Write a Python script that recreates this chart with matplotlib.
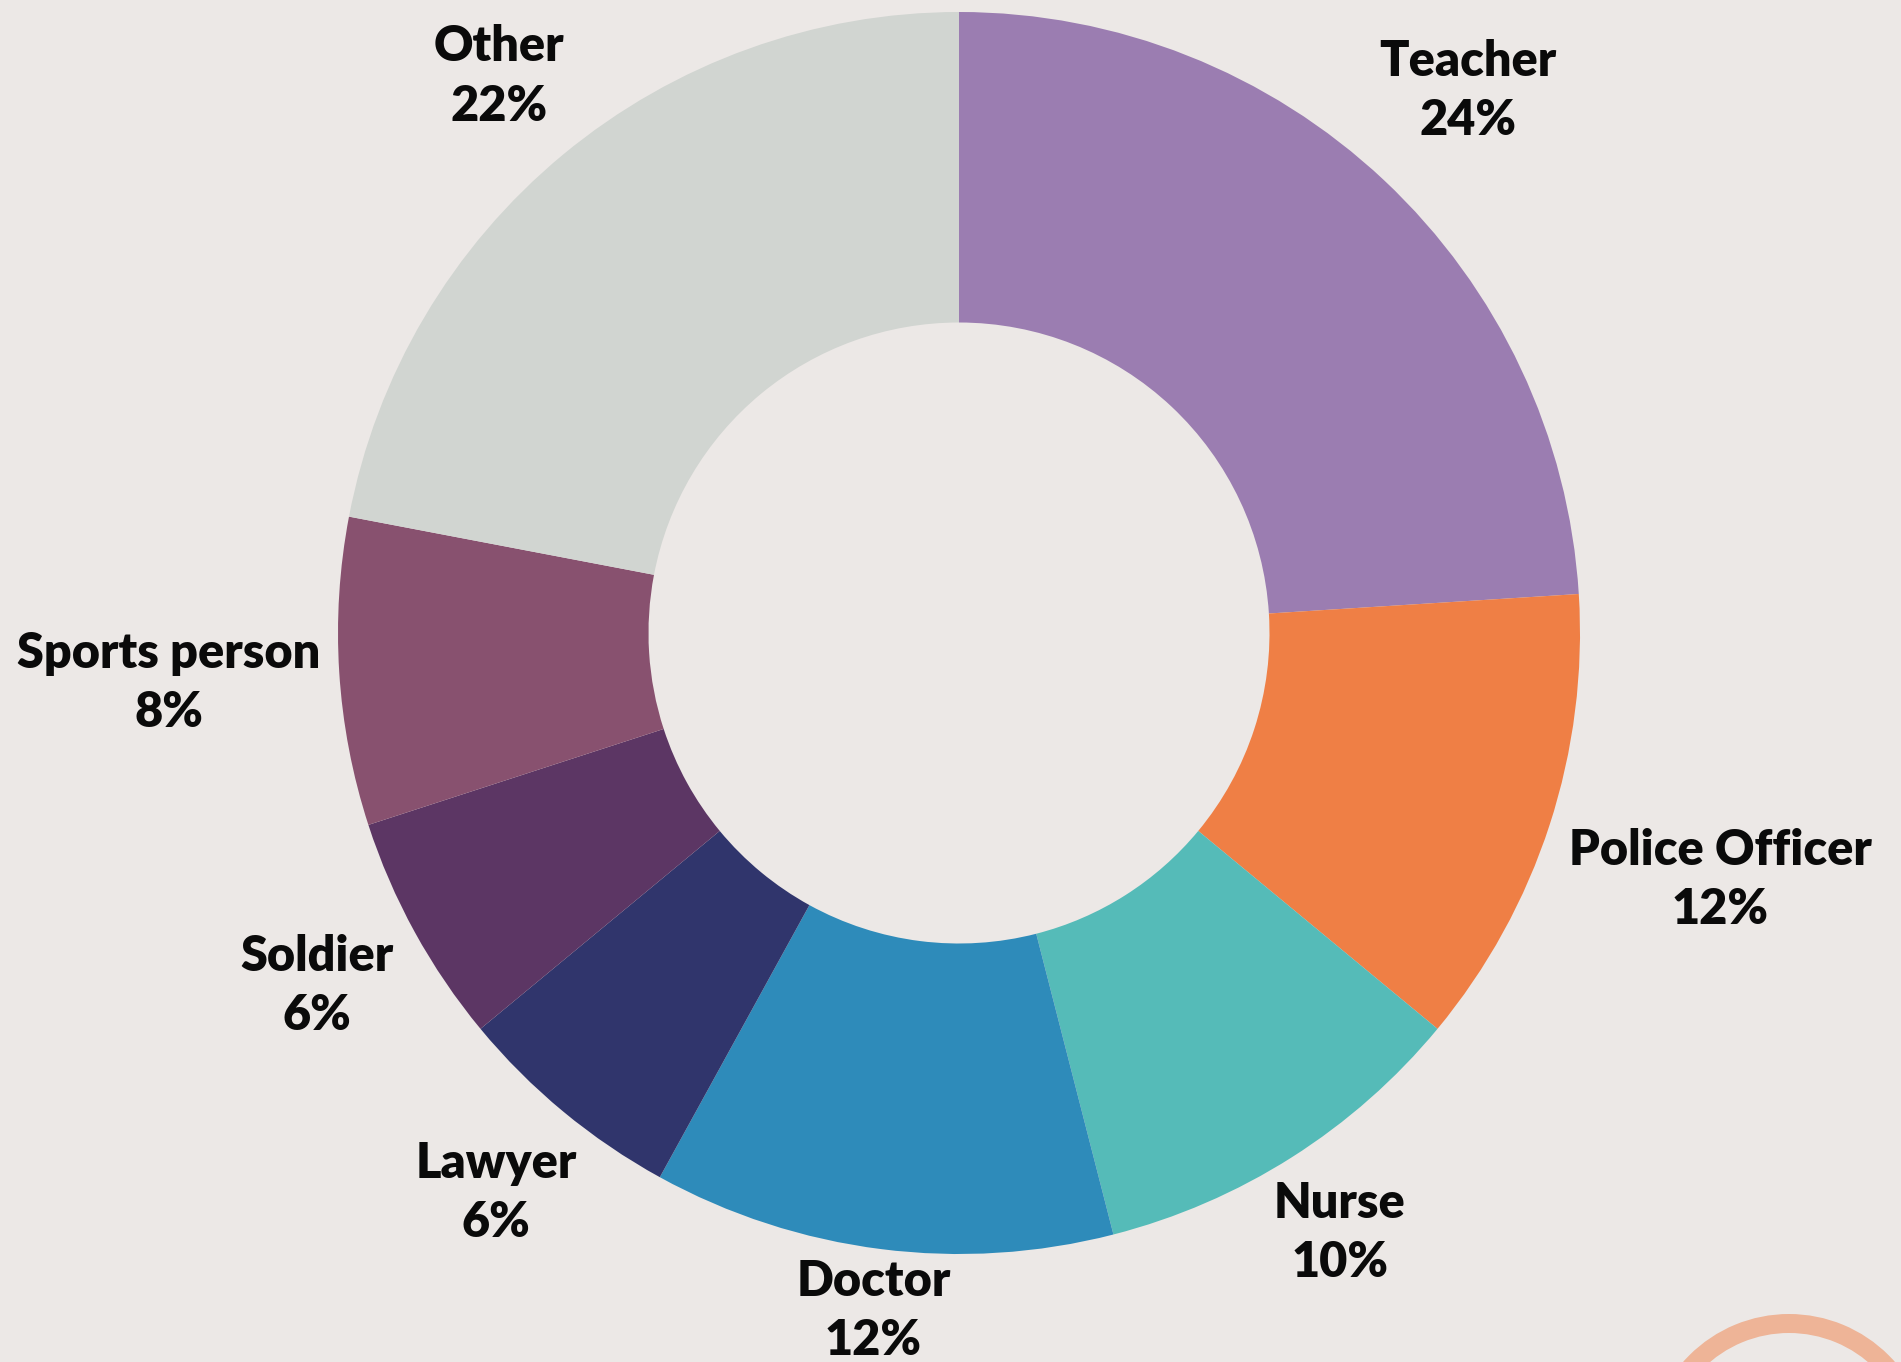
import matplotlib
matplotlib.use("Agg")
import matplotlib.pyplot as plt
from matplotlib.patches import Wedge
import numpy as np

categories = ["Teacher", "Police Officer", "Nurse", "Doctor", "Lawyer", "Soldier", "Sports person", "Other"]
values = [24, 12, 10, 12, 6, 6, 8, 22]
colors = ["#9B7DB1", "#EF7F45", "#55BBB8", "#2E8BBA", "#30356C", "#5C3664", "#88516F", "#D1D5D1"]
label_radius = [1.197, 1.289, 1.145, 1.10, 1.17, 1.18, 1.275, 1.163]

BG = "#ECE8E6"
W, H = 1901, 1362
cx, cy, R = 959, 729, 621  # pixel center (from bottom-left) and outer radius

fig = plt.figure(figsize=(W / 100, H / 100), dpi=100, facecolor=BG)
ax = fig.add_axes([0, 0, 1, 1])
ax.set_facecolor(BG)

wedges, _ = ax.pie(values, colors=colors, startangle=90, counterclock=False, radius=1,
                   wedgeprops=dict(width=0.5, edgecolor="none", linewidth=0))

ax.set_aspect("auto")
ax.set_xlim(-cx / R, (W - cx) / R)
ax.set_ylim(-cy / R, (H - cy) / R)
ax.axis("off")

total = sum(values)
cum = 0
for cat, v, lr in zip(categories, values, label_radius):
    mid = 90 - 360 * (cum + v / 2) / total
    cum += v
    a = np.deg2rad(mid)
    ax.text(lr * np.cos(a), lr * np.sin(a), f"{cat}\n{v}%", ha="center", va="center",
            fontsize=35, fontweight="heavy", family=["Lato", "DejaVu Sans"],
            color="#0A0A0A", linespacing=1.38)

# decorative ring at bottom right
ring_c = ((1789 - cx) / R, (H - 1455 - cy) / R)
ax.add_patch(Wedge(ring_c, 141 / R, 0, 360, width=19 / R, facecolor="#EEB497",
                   edgecolor="none", clip_on=False))

fig.savefig("out.png", dpi=100, facecolor=BG)
